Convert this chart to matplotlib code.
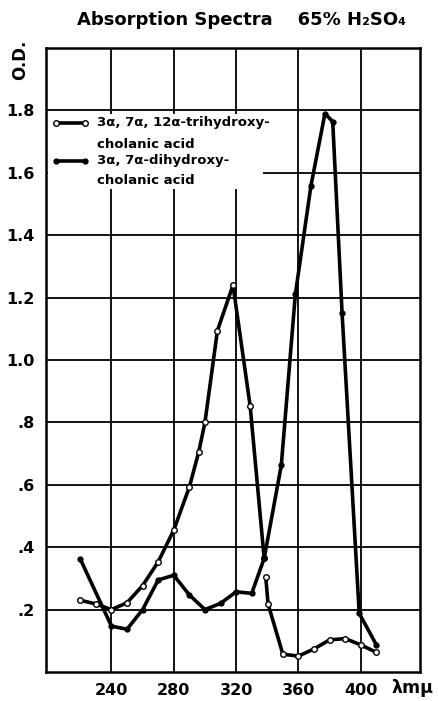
import numpy as np
import matplotlib.pyplot as plt
from matplotlib.lines import Line2D
from matplotlib.patches import Rectangle

# trihydroxy (open circles) - the curve breaks near 338
tri_x = [220, 230, 240, 250, 260, 270, 280, 290, 296, 300, 308, 318, 329, 338,
         np.nan, 339, 340.5, 350, 360, 370, 380, 390, 400, 410]
tri_y = [0.23, 0.218, 0.20, 0.222, 0.277, 0.353, 0.455, 0.593, 0.705, 0.80, 1.094, 1.24, 0.853, 0.364,
         np.nan, 0.305, 0.218, 0.057, 0.051, 0.074, 0.103, 0.107, 0.087, 0.063]

# dihydroxy (filled dots)
di_x = [220, 240, 250, 260, 270, 280, 290, 300, 310, 320, 330, 338, 349, 358, 368, 377, 382, 388, 399, 410]
di_y = [0.362, 0.147, 0.137, 0.20, 0.295, 0.31, 0.247, 0.20, 0.22, 0.257, 0.252, 0.364, 0.663, 1.21,
        1.558, 1.79, 1.764, 1.15, 0.188, 0.087]

xticks = [240, 280, 320, 360, 400]
yticks = [0.2, 0.4, 0.6, 0.8, 1.0, 1.2, 1.4, 1.6, 1.8]
ylabels = ['.2', '.4', '.6', '.8', '1.0', '1.2', '1.4', '1.6', '1.8']

labels = [['3α, 7α, 12α-trihydroxy-', 'cholanic acid'],
          ['3α, 7α-dihydroxy-', 'cholanic acid']]

plt.rcParams['font.family'] = ['DejaVu Sans']
plt.rcParams['font.weight'] = 'bold'

fig = plt.figure(figsize=(4.39, 7.01), dpi=100)
ax = fig.add_axes([46/439, 1 - 672/701, 374/439, 624/701])

ax.set_xlim(198, 438)
ax.set_ylim(0, 2.0)
ax.set_xticks(xticks)
ax.set_xticklabels([str(t) for t in xticks], fontsize=11.5, fontweight='bold')
ax.set_yticks(yticks)
ax.set_yticklabels(ylabels, fontsize=11.5, fontweight='bold')
ax.tick_params(length=0, pad=8)
ax.grid(True, color='black', linewidth=1.3)
ax.set_axisbelow(True)
for s in ax.spines.values():
    s.set_linewidth(1.8)

ax.plot(tri_x, tri_y, color='black', linewidth=2.6, marker='o', markersize=4,
        markerfacecolor='white', markeredgecolor='black', markeredgewidth=1.0, zorder=3)
ax.plot(di_x, di_y, color='black', linewidth=2.6, marker='o', markersize=3.5,
        markerfacecolor='black', markeredgecolor='black', zorder=3)

# legend drawn by hand: white box that hides the grid, handle next to first line
ax.add_patch(Rectangle((0.005, 0.774), 0.575, 0.121, transform=ax.transAxes,
                       facecolor='white', edgecolor='none', zorder=2))
styles = [dict(markerfacecolor='white', markersize=4, markeredgewidth=1.0),
          dict(markerfacecolor='black', markersize=3.5)]
rows = [(0.880, 0.846), (0.819, 0.788)]
for lab, st, (y1, y2) in zip(labels, styles, rows):
    ax.add_line(Line2D([0.026, 0.104], [y1, y1], transform=ax.transAxes, color='black',
                       linewidth=2.6, marker='o', markeredgecolor='black', zorder=4, **st))
    ax.text(0.136, y1, lab[0], transform=ax.transAxes, fontsize=9.5, fontweight='bold',
            va='center', ha='left', zorder=4)
    ax.text(0.136, y2, lab[1], transform=ax.transAxes, fontsize=9.5, fontweight='bold',
            va='center', ha='left', zorder=4)

fig.text(0.55, 0.972, 'Absorption Spectra    65% H₂SO₄', ha='center', va='center',
         fontsize=13, fontweight='bold')
fig.text(20/439, 1 - 60/701, 'O.D.', rotation=90, ha='center', va='center',
         fontsize=12, fontweight='bold')
fig.text(392/439, 1 - 688/701, 'λmμ', ha='left', va='center',
         fontsize=12.5, fontweight='bold')

fig.savefig('out.png', dpi=100)
